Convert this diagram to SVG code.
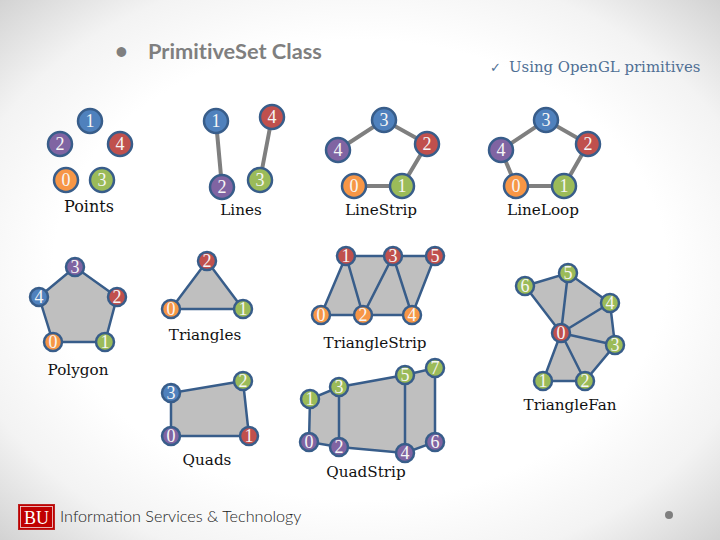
<svg xmlns="http://www.w3.org/2000/svg" width="720" height="540" viewBox="0 0 720 540">
<style>
.lbl{font-family:"DejaVu Serif","Liberation Serif",serif;font-size:15.2px;fill:#111;text-anchor:middle}
.d{font-family:"Liberation Serif",serif;font-size:18px;fill:#f6f6f6;text-anchor:middle}
.n{stroke:#385d8a;stroke-width:2.5}
.b{fill:#4f81bd}.r{fill:#c0504d}.g{fill:#9bbb59}.p{fill:#8064a2}.o{fill:#f79646}
.gl{stroke:#7f7f7f;stroke-width:4;fill:none}
.e{stroke:#385d8a;stroke-width:2.5;fill:none}
.f{fill:#bfbfbf;stroke:none}
</style>
<defs>
<radialGradient id="bg" cx="0.5" cy="0.5" r="0.71">
<stop offset="0.6" stop-color="#ffffff"/><stop offset="0.8" stop-color="#f3f3f3"/><stop offset="1" stop-color="#d2d2d2"/>
</radialGradient>
</defs>
<rect width="720" height="540" fill="url(#bg)"/>
<text x="115" y="59" font-family="Lato,sans-serif" font-size="22" font-weight="700" fill="#7f7f7f">•</text>
<text x="148" y="59" font-family="Lato,sans-serif" font-size="21.800" font-weight="700" fill="#7f7f7f" style="font-variant-ligatures:none">PrimitiveSet Class</text>
<text x="490" y="72" font-family="'DejaVu Sans',sans-serif" font-size="13" fill="#4f6f94">✓</text>
<text x="509" y="72" font-family="'DejaVu Serif',serif" font-size="14.900" fill="#4f6f94">Using OpenGL primitives</text>

<g id="faces">
<polygon class="f" points="53,342 105,342 117,297 75,267 39,297"/>
<polygon class="f" points="171,309 243,309 207,261"/>
<polygon class="f" points="321,315 346,256 435,256 412,315"/>
<polygon class="f" points="561,333 543,381 585,381 615,345 610,303 568,273 525,286"/>
<polygon class="f" points="171,436 249,436 243,381 171,393"/>
<polygon class="f" points="309,442 310,399 339,387 405,375 435,368 435,442 405,453 339,447"/>
</g>
<g id="connectors">
<path class="gl" d="M216 121L222 187M272 117L260 180"/>
<path class="gl" d="M354 186L402 186L427 144L384 120L338 150"/>
<path class="gl" d="M516 186L564 186L588 144L546 120L501 150Z"/>
<path class="e" d="M53 342L105 342L117 297L75 267L39 297Z"/>
<path class="e" d="M171 309L243 309L207 261Z"/>
<path class="e" d="M321 315L346 256L363 315L393 256L412 315L435 256L393 256L346 256M321 315L412 315"/>
<path class="e" d="M561 333L543 381L585 381L615 345L610 303L568 273L525 286L561 333M561 333L585 381M561 333L615 345M561 333L610 303M561 333L568 273"/>
<path class="e" d="M171 436L249 436L243 381L171 393Z"/>
<path class="e" d="M309 442L310 399L339 387L405 375L435 368L435 442L405 453L339 447ZM339 387L339 447M405 375L405 453"/>
</g>

<g id="points-1"><circle class="n b" cx="90" cy="121" r="12"/><text class="d" x="90" y="127">1</text></g>
<g id="points-2"><circle class="n p" cx="60" cy="144" r="12"/><text class="d" x="60" y="150">2</text></g>
<g id="points-4"><circle class="n r" cx="120" cy="144" r="12"/><text class="d" x="120" y="150">4</text></g>
<g id="points-0"><circle class="n o" cx="66" cy="180" r="12"/><text class="d" x="66" y="186">0</text></g>
<g id="points-3"><circle class="n g" cx="102" cy="180" r="12"/><text class="d" x="102" y="186">3</text></g>

<g id="lines-1"><circle class="n b" cx="216" cy="121" r="12"/><text class="d" x="216" y="127">1</text></g>
<g id="lines-4"><circle class="n r" cx="272" cy="117" r="12"/><text class="d" x="272" y="123">4</text></g>
<g id="lines-2"><circle class="n p" cx="222" cy="187" r="12"/><text class="d" x="222" y="193">2</text></g>
<g id="lines-3"><circle class="n g" cx="260" cy="180" r="12"/><text class="d" x="260" y="186">3</text></g>

<g id="strip-3"><circle class="n b" cx="384" cy="120" r="12"/><text class="d" x="384" y="126">3</text></g>
<g id="strip-2"><circle class="n r" cx="427" cy="144" r="12"/><text class="d" x="427" y="150">2</text></g>
<g id="strip-4"><circle class="n p" cx="338" cy="150" r="12"/><text class="d" x="338" y="156">4</text></g>
<g id="strip-0"><circle class="n o" cx="354" cy="186" r="12"/><text class="d" x="354" y="192">0</text></g>
<g id="strip-1"><circle class="n g" cx="402" cy="186" r="12"/><text class="d" x="402" y="192">1</text></g>

<g id="loop-3"><circle class="n b" cx="546" cy="120" r="12"/><text class="d" x="546" y="126">3</text></g>
<g id="loop-2"><circle class="n r" cx="588" cy="144" r="12"/><text class="d" x="588" y="150">2</text></g>
<g id="loop-4"><circle class="n p" cx="501" cy="150" r="12"/><text class="d" x="501" y="156">4</text></g>
<g id="loop-0"><circle class="n o" cx="516" cy="186" r="12"/><text class="d" x="516" y="192">0</text></g>
<g id="loop-1"><circle class="n g" cx="564" cy="186" r="12"/><text class="d" x="564" y="192">1</text></g>

<g id="poly-3"><circle class="n p" cx="75" cy="267" r="9"/><text class="d" x="75" y="273">3</text></g>
<g id="poly-4"><circle class="n b" cx="39" cy="297" r="9"/><text class="d" x="39" y="303">4</text></g>
<g id="poly-2"><circle class="n r" cx="117" cy="297" r="9"/><text class="d" x="117" y="303">2</text></g>
<g id="poly-0"><circle class="n o" cx="53" cy="342" r="9"/><text class="d" x="53" y="348">0</text></g>
<g id="poly-1"><circle class="n g" cx="105" cy="342" r="9"/><text class="d" x="105" y="348">1</text></g>

<g id="tri-2"><circle class="n r" cx="207" cy="261" r="9"/><text class="d" x="207" y="267">2</text></g>
<g id="tri-0"><circle class="n o" cx="171" cy="309" r="9"/><text class="d" x="171" y="315">0</text></g>
<g id="tri-1"><circle class="n g" cx="243" cy="309" r="9"/><text class="d" x="243" y="315">1</text></g>

<g id="tstrip-1"><circle class="n r" cx="346" cy="256" r="9"/><text class="d" x="346" y="262">1</text></g>
<g id="tstrip-3"><circle class="n r" cx="393" cy="256" r="9"/><text class="d" x="393" y="262">3</text></g>
<g id="tstrip-5"><circle class="n r" cx="435" cy="256" r="9"/><text class="d" x="435" y="262">5</text></g>
<g id="tstrip-0"><circle class="n o" cx="321" cy="315" r="9"/><text class="d" x="321" y="321">0</text></g>
<g id="tstrip-2"><circle class="n o" cx="363" cy="315" r="9"/><text class="d" x="363" y="321">2</text></g>
<g id="tstrip-4"><circle class="n o" cx="412" cy="315" r="9"/><text class="d" x="412" y="321">4</text></g>

<g id="fan-0"><circle class="n r" cx="561" cy="333" r="9"/><text class="d" x="561" y="339">0</text></g>
<g id="fan-1"><circle class="n g" cx="543" cy="381" r="9"/><text class="d" x="543" y="387">1</text></g>
<g id="fan-2"><circle class="n g" cx="585" cy="381" r="9"/><text class="d" x="585" y="387">2</text></g>
<g id="fan-3"><circle class="n g" cx="615" cy="345" r="9"/><text class="d" x="615" y="351">3</text></g>
<g id="fan-4"><circle class="n g" cx="610" cy="303" r="9"/><text class="d" x="610" y="309">4</text></g>
<g id="fan-5"><circle class="n g" cx="568" cy="273" r="9"/><text class="d" x="568" y="279">5</text></g>
<g id="fan-6"><circle class="n g" cx="525" cy="286" r="9"/><text class="d" x="525" y="292">6</text></g>

<g id="quad-3"><circle class="n b" cx="171" cy="393" r="9"/><text class="d" x="171" y="399">3</text></g>
<g id="quad-2"><circle class="n g" cx="243" cy="381" r="9"/><text class="d" x="243" y="387">2</text></g>
<g id="quad-0"><circle class="n p" cx="171" cy="436" r="9"/><text class="d" x="171" y="442">0</text></g>
<g id="quad-1"><circle class="n r" cx="249" cy="436" r="9"/><text class="d" x="249" y="442">1</text></g>

<g id="qs-1"><circle class="n g" cx="310" cy="399" r="9"/><text class="d" x="310" y="405">1</text></g>
<g id="qs-3"><circle class="n g" cx="339" cy="387" r="9"/><text class="d" x="339" y="393">3</text></g>
<g id="qs-5"><circle class="n g" cx="405" cy="375" r="9"/><text class="d" x="405" y="381">5</text></g>
<g id="qs-7"><circle class="n g" cx="435" cy="368" r="9"/><text class="d" x="435" y="374">7</text></g>
<g id="qs-0"><circle class="n p" cx="309" cy="442" r="9"/><text class="d" x="309" y="448">0</text></g>
<g id="qs-2"><circle class="n p" cx="339" cy="447" r="9"/><text class="d" x="339" y="453">2</text></g>
<g id="qs-4"><circle class="n p" cx="405" cy="453" r="9"/><text class="d" x="405" y="459">4</text></g>
<g id="qs-6"><circle class="n p" cx="435" cy="442" r="9"/><text class="d" x="435" y="448">6</text></g>

<g id="labels">
<text class="lbl" x="89" y="212" style="font-size:16px">Points</text>
<text class="lbl" x="241" y="215">Lines</text>
<text class="lbl" x="381" y="215">LineStrip</text>
<text class="lbl" x="543" y="215">LineLoop</text>
<text class="lbl" x="78" y="375">Polygon</text>
<text class="lbl" x="205" y="340">Triangles</text>
<text class="lbl" x="375" y="348">TriangleStrip</text>
<text class="lbl" x="570" y="410">TriangleFan</text>
<text class="lbl" x="207" y="465">Quads</text>
<text class="lbl" x="366" y="477">QuadStrip</text>
</g>

<g id="logo">
<rect x="18.500" y="504.500" width="36" height="25" fill="#c00000" stroke="#b22" stroke-width="1"/>
<rect x="20.500" y="506.500" width="32" height="21" fill="none" stroke="#f2dcdc" stroke-width="0.800"/>
<text x="36.500" y="523.500" font-family="'Liberation Serif',serif" font-size="18" fill="#fff" text-anchor="middle">BU</text>
<text x="60" y="522" font-family="Lato,sans-serif" font-size="16.200" font-weight="300" fill="#222">Information Services &amp; Technology</text>
</g>
<circle cx="669" cy="515" r="4" fill="#7f7f7f"/>
</svg>
